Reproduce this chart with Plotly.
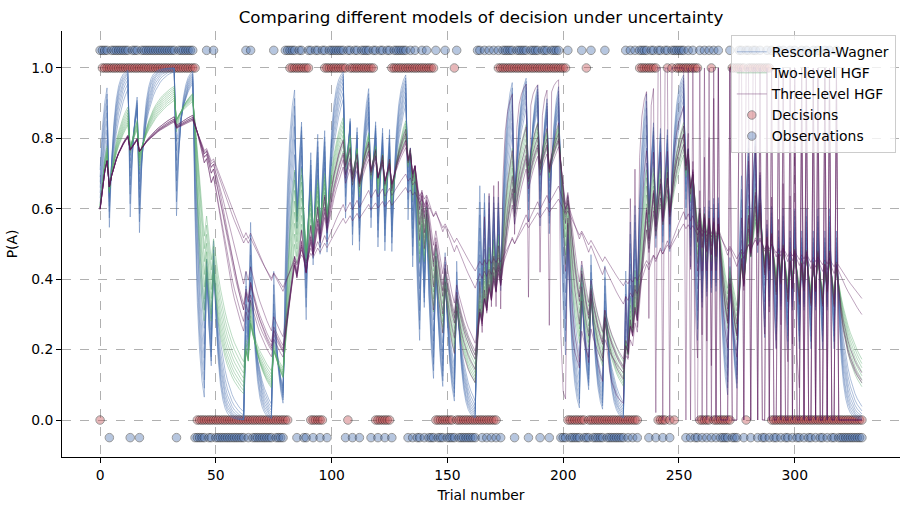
import numpy as np
import plotly.graph_objects as go

# ---------------- data ----------------
# observations (1 = option A observed), trials 0..329, 10 trials per chunk
observations_chunks = [
    "1111011111", "1110111011", "1111111111", "1110111111", "1000001001",
    "0000000000", "0001010000", "0000010000", "1111101100", "1101101101",
    "1111110110", "1101111011", "0110110111", "1110101001", "0100010001",
    "0000100000", "0001101010", "1010111110", "1111101111", "0111011110",
    "0010000010", "0010000010", "0000000101", "0101111011", "0110110111",
    "1110101001", "0101010100", "0010001101", "1011010010", "1001010010",
    "1001010010", "1001010010", "0000000000",
]
# decisions (1 = option A chosen)
decisions_chunks = [
    "0111111111", "1111111111", "1111111111", "1111111111", "1100000000",
    "0000000000", "0000000000", "0000000000", "0011111111", "1000000111",
    "1111111011", "1111111110", "0000001111", "1111111111", "1111100000",
    "0001000000", "0000000000", "0011111111", "1111111111", "1111111111",
    "1100000000", "1000000000", "0000000000", "0001111111", "1000010101",
    "1111111110", "0000100000", "0001111110", "1111111111", "0000000000",
    "0000000000", "0000000000", "0000000000",
]
observations = [int(c) for c in "".join(observations_chunks)]
decisions = [int(c) for c in "".join(decisions_chunks)]
trials = list(range(len(observations)))

# posterior samples of each model's parameters (estimated from the fans)
rw_learning_rates = [0.20, 0.23, 0.26, 0.29, 0.32, 0.35, 0.38, 0.42]
hgf2_tonic_volatility = [-1.8, -2.0, -2.2, -2.4, -2.6, -2.8, -3.0, -3.2]
hgf3_tonic_volatility_2 = [-6.5, -7.0, -6.0, -6.0, -6.5, -7.0, -8.0, -7.5]
hgf3_tonic_volatility_3 = [1.7, 2.2, 1.5, 1.3, 1.6, 1.8, 2.0, 1.0]

tick_x = [0, 50, 100, 150, 200, 250, 300]
tick_y = [0.0, 0.2, 0.4, 0.6, 0.8, 1.0]

TITLE = "Comparing different models of decision under uncertainty"
MODEL_NAMES = ["Rescorla-Wagner", "Two-level HGF", "Three-level HGF"]


# ---------------- belief trajectories of the three learners ----------------
def sigmoid(x):
    return 1.0 / (1.0 + np.exp(-x))


def rescorla_wagner(u, lr, v0=0.5):
    v, out = v0, []
    for x in u:
        v = v + lr * (x - v)
        out.append(v)
    return out


def hgf_binary(u, omega2, omega3=None, kappa=1.0, mu3_0=1.0):
    mu2, s2, mu3, s3 = 0.0, 1.0, mu3_0, 1.0
    out = []
    for x in u:
        if omega3 is not None:
            v2 = np.exp(min(kappa * mu3 + omega2, 30))
        else:
            v2 = np.exp(omega2)
        s2hat = s2 + v2
        mu1hat = sigmoid(mu2)
        pi2 = 1.0 / s2hat + mu1hat * (1 - mu1hat)
        mu2n = mu2 + (x - mu1hat) / pi2
        s2n = 1.0 / pi2
        if omega3 is not None:
            pi3hat = 1.0 / (s3 + np.exp(omega3))
            w2 = v2 / s2hat
            d2 = (s2n + (mu2n - mu2) ** 2) / s2hat - 1
            pi3 = pi3hat + 0.5 * kappa ** 2 * w2 * (w2 + (2 * w2 - 1) * d2)
            if pi3 <= 1e-3:
                pi3 = pi3hat
            mu3 = mu3 + 0.5 * kappa * w2 * d2 / pi3
            s3 = 1.0 / pi3
        mu2, s2 = mu2n, s2n
        out.append(float(sigmoid(mu2)))
    return out


FONT = "DejaVu Sans"
fig = go.Figure()

# scatter: decisions and observations (drawn beneath the lines)
fig.add_trace(go.Scatter(
    x=trials, y=decisions, mode="markers", name="Decisions", legendrank=4,
    marker=dict(size=8.5, color="#c44e52", opacity=0.4,
                line=dict(color="black", width=1)),
))
fig.add_trace(go.Scatter(
    x=trials, y=[o * 1.1 - 0.05 for o in observations], mode="markers",
    name="Observations", legendrank=5,
    marker=dict(size=8.5, color="#4c72b0", opacity=0.4,
                line=dict(color="black", width=1)),
))

for i, lr in enumerate(rw_learning_rates):
    fig.add_trace(go.Scatter(
        x=trials, y=rescorla_wagner(observations, lr), mode="lines",
        name=MODEL_NAMES[0], legendgroup="rw", showlegend=(i == 0), legendrank=1,
        line=dict(color="rgba(76,114,176,0.45)", width=1),
    ))
for i, om in enumerate(hgf2_tonic_volatility):
    fig.add_trace(go.Scatter(
        x=trials, y=hgf_binary(observations, om), mode="lines",
        name=MODEL_NAMES[1], legendgroup="hgf2", showlegend=(i == 0), legendrank=2,
        line=dict(color="rgba(85,168,104,0.4)", width=1),
    ))
for i, (om2, om3) in enumerate(zip(hgf3_tonic_volatility_2, hgf3_tonic_volatility_3)):
    fig.add_trace(go.Scatter(
        x=trials, y=hgf_binary(observations, om2, om3), mode="lines",
        name=MODEL_NAMES[2], legendgroup="hgf3", showlegend=(i == 0), legendrank=3,
        line=dict(color="rgba(92,28,92,0.4)", width=1),
    ))

axis_common = dict(
    showgrid=True, gridcolor="#b0b0b0", gridwidth=0.8, griddash="dash",
    showline=True, linecolor="black", linewidth=1, zeroline=False,
    ticks="outside", ticklen=5, tickwidth=1, tickcolor="black",
    tickfont=dict(family=FONT, size=13.9, color="black"),
)
fig.update_layout(
    width=911, height=511,
    margin=dict(l=62, r=11, t=31, b=54),
    paper_bgcolor="white", plot_bgcolor="white",
    font=dict(family=FONT, size=13.9, color="black"),
    title=dict(text=TITLE, x=0.5, xref="paper", xanchor="center",
               y=1 - 17 / 511, yref="container", yanchor="middle",
               font=dict(family=FONT, size=16.7, color="black")),
    xaxis=dict(range=[-16.45, 345.45], tickvals=tick_x,
               title=dict(text="Trial number", standoff=8,
                          font=dict(family=FONT, size=13.9)),
               **axis_common),
    yaxis=dict(range=[-0.105, 1.105], tickvals=tick_y, tickformat=".1f",
               title=dict(text="P(A)", standoff=10,
                          font=dict(family=FONT, size=13.9)),
               **axis_common),
    legend=dict(x=0.995, y=0.99, xanchor="right", yanchor="top",
                bgcolor="rgba(255,255,255,0.8)", bordercolor="#cccccc",
                borderwidth=1, font=dict(family=FONT, size=13.9),
                itemwidth=30, tracegroupgap=0),
    showlegend=True,
)

fig.write_html("out.html")
